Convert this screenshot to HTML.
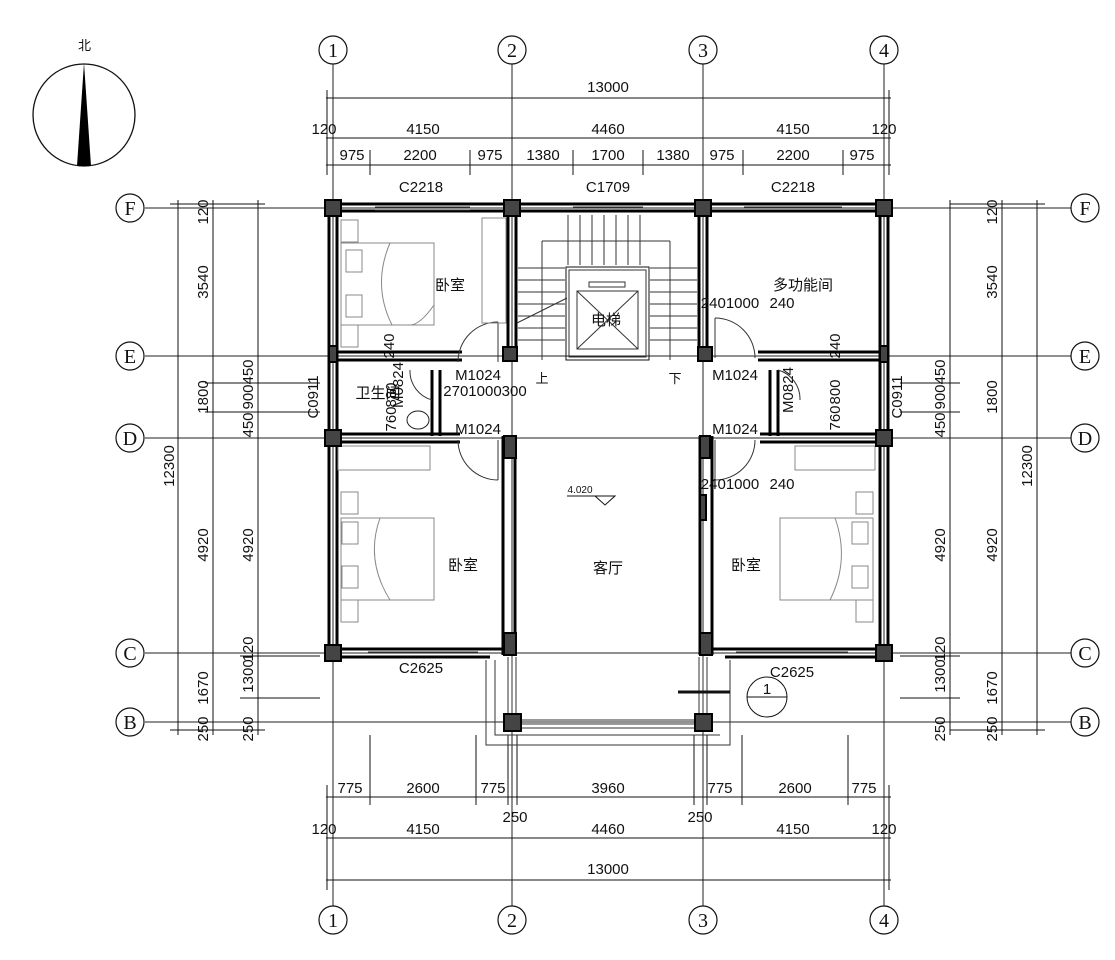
<!DOCTYPE html>
<html><head><meta charset="utf-8"><style>
body{margin:0;background:#fff;}
svg{display:block;font-family:"Liberation Sans","Noto Sans CJK SC",sans-serif;}
.t{font-size:15px;fill:#111;}
.s{font-size:13px;fill:#111;}
.c{font-family:"Liberation Serif",serif;font-size:20px;fill:#111;}
</style></head><body>
<svg width="1115" height="960" viewBox="0 0 1115 960" xmlns="http://www.w3.org/2000/svg">
<!-- compass -->
<text x="78" y="50" class="s" style="font-family:'Noto Sans CJK SC',sans-serif">北</text>
<circle cx="84" cy="115" r="51" fill="none" stroke="#111" stroke-width="1.3"/>
<polygon points="84,63 77,166 91,166" fill="#000"/>

<!-- axis grid lines -->
<g stroke="#222" stroke-width="1">
<line x1="333" y1="64" x2="333" y2="906"/>
<line x1="512" y1="64" x2="512" y2="906"/>
<line x1="703" y1="64" x2="703" y2="906"/>
<line x1="884" y1="64" x2="884" y2="906"/>
<line x1="145" y1="208" x2="1071" y2="208"/>
<line x1="145" y1="356" x2="1071" y2="356"/>
<line x1="145" y1="438" x2="1071" y2="438"/>
<line x1="145" y1="653" x2="1071" y2="653"/>
<line x1="145" y1="722" x2="1071" y2="722"/>
</g>
<!-- axis bubbles -->
<g fill="#fff" stroke="#111" stroke-width="1.2">
<circle cx="333" cy="50" r="14"/><circle cx="512" cy="50" r="14"/><circle cx="703" cy="50" r="14"/><circle cx="884" cy="50" r="14"/>
<circle cx="333" cy="920" r="14"/><circle cx="512" cy="920" r="14"/><circle cx="703" cy="920" r="14"/><circle cx="884" cy="920" r="14"/>
<circle cx="130" cy="208" r="14"/><circle cx="130" cy="356" r="14"/><circle cx="130" cy="438" r="14"/><circle cx="130" cy="653" r="14"/><circle cx="130" cy="722" r="14"/>
<circle cx="1085" cy="208" r="14"/><circle cx="1085" cy="356" r="14"/><circle cx="1085" cy="438" r="14"/><circle cx="1085" cy="653" r="14"/><circle cx="1085" cy="722" r="14"/>
</g>
<g class="c" text-anchor="middle">
<text x="333" y="57">1</text><text x="512" y="57">2</text><text x="703" y="57">3</text><text x="884" y="57">4</text>
<text x="333" y="927">1</text><text x="512" y="927">2</text><text x="703" y="927">3</text><text x="884" y="927">4</text>
<text x="130" y="215">F</text><text x="130" y="363">E</text><text x="130" y="445">D</text><text x="130" y="660">C</text><text x="130" y="729">B</text>
<text x="1085" y="215">F</text><text x="1085" y="363">E</text><text x="1085" y="445">D</text><text x="1085" y="660">C</text><text x="1085" y="729">B</text>
</g>

<!-- top dimensions -->
<g stroke="#111" stroke-width="1">
<line x1="326" y1="98" x2="891" y2="98"/>
<line x1="326" y1="138" x2="891" y2="138"/>
<line x1="326" y1="165" x2="891" y2="165"/>
<line x1="326" y1="797" x2="891" y2="797"/>
<line x1="326" y1="838" x2="891" y2="838"/>
<line x1="326" y1="880" x2="891" y2="880"/>
<line x1="327" y1="90" x2="327" y2="175"/><line x1="889" y1="90" x2="889" y2="175"/>
<line x1="327" y1="785" x2="327" y2="890"/><line x1="889" y1="785" x2="889" y2="890"/>
<line x1="370" y1="150" x2="370" y2="175"/><line x1="470" y1="150" x2="470" y2="175"/>
<line x1="573" y1="150" x2="573" y2="175"/><line x1="643" y1="150" x2="643" y2="175"/>
<line x1="743" y1="150" x2="743" y2="175"/><line x1="843" y1="150" x2="843" y2="175"/>
<line x1="370" y1="735" x2="370" y2="805"/><line x1="476" y1="735" x2="476" y2="805"/>
<line x1="508" y1="735" x2="508" y2="805"/><line x1="517" y1="735" x2="517" y2="805"/>
<line x1="694" y1="735" x2="694" y2="805"/><line x1="707" y1="735" x2="707" y2="805"/>
<line x1="742" y1="735" x2="742" y2="805"/><line x1="848" y1="735" x2="848" y2="805"/>
<!-- left dims -->
<line x1="258" y1="200" x2="258" y2="735"/>
<line x1="213" y1="200" x2="213" y2="735"/>
<line x1="178" y1="200" x2="178" y2="735"/>
<line x1="950" y1="200" x2="950" y2="735"/>
<line x1="1002" y1="200" x2="1002" y2="735"/>
<line x1="1037" y1="200" x2="1037" y2="735"/>
<line x1="170" y1="204" x2="265" y2="204"/><line x1="950" y1="204" x2="1045" y2="204"/>
<line x1="205" y1="383" x2="320" y2="383"/><line x1="205" y1="412" x2="320" y2="412"/>
<line x1="900" y1="383" x2="960" y2="383"/><line x1="900" y1="412" x2="960" y2="412"/>
<line x1="240" y1="656" x2="320" y2="656"/><line x1="240" y1="698" x2="320" y2="698"/>
<line x1="900" y1="656" x2="960" y2="656"/><line x1="900" y1="698" x2="960" y2="698"/>
<line x1="170" y1="730" x2="265" y2="730"/><line x1="950" y1="730" x2="1045" y2="730"/>
</g>
<g class="t" text-anchor="middle">
<text x="608" y="92">13000</text>
<text x="324" y="134">120</text><text x="423" y="134">4150</text><text x="608" y="134">4460</text><text x="793" y="134">4150</text><text x="884" y="134">120</text>
<text x="352" y="160">975</text><text x="420" y="160">2200</text><text x="490" y="160">975</text><text x="543" y="160">1380</text><text x="608" y="160">1700</text><text x="673" y="160">1380</text><text x="722" y="160">975</text><text x="793" y="160">2200</text><text x="862" y="160">975</text>
<text x="421" y="192">C2218</text><text x="608" y="192">C1709</text><text x="793" y="192">C2218</text>
<text x="350" y="793">775</text><text x="423" y="793">2600</text><text x="493" y="793">775</text><text x="608" y="793">3960</text><text x="720" y="793">775</text><text x="795" y="793">2600</text><text x="864" y="793">775</text>
<text x="515" y="822">250</text><text x="700" y="822">250</text>
<text x="324" y="834">120</text><text x="423" y="834">4150</text><text x="608" y="834">4460</text><text x="793" y="834">4150</text><text x="884" y="834">120</text>
<text x="608" y="874">13000</text>
<text x="421" y="673">C2625</text><text x="792" y="677">C2625</text>
</g>
<!-- vertical dim texts -->
<g class="t" text-anchor="middle">
<text transform="translate(208,282) rotate(-90)">3540</text>
<text transform="translate(208,397) rotate(-90)">1800</text>
<text transform="translate(208,545) rotate(-90)">4920</text>
<text transform="translate(208,688) rotate(-90)">1670</text>
<text transform="translate(208,212) rotate(-90)">120</text>
<text transform="translate(208,729) rotate(-90)">250</text>
<text transform="translate(174,466) rotate(-90)">12300</text>
<text transform="translate(253,372) rotate(-90)">450</text>
<text transform="translate(253,397) rotate(-90)">900</text>
<text transform="translate(253,425) rotate(-90)">450</text>
<text transform="translate(253,545) rotate(-90)">4920</text>
<text transform="translate(253,676) rotate(-90)">1300</text>
<text transform="translate(253,649) rotate(-90)">120</text>
<text transform="translate(253,729) rotate(-90)">250</text>
<text transform="translate(997,282) rotate(-90)">3540</text>
<text transform="translate(997,397) rotate(-90)">1800</text>
<text transform="translate(997,545) rotate(-90)">4920</text>
<text transform="translate(997,688) rotate(-90)">1670</text>
<text transform="translate(997,212) rotate(-90)">120</text>
<text transform="translate(997,729) rotate(-90)">250</text>
<text transform="translate(1032,466) rotate(-90)">12300</text>
<text transform="translate(945,372) rotate(-90)">450</text>
<text transform="translate(945,397) rotate(-90)">900</text>
<text transform="translate(945,425) rotate(-90)">450</text>
<text transform="translate(945,545) rotate(-90)">4920</text>
<text transform="translate(945,676) rotate(-90)">1300</text>
<text transform="translate(945,649) rotate(-90)">120</text>
<text transform="translate(945,729) rotate(-90)">250</text>
<text transform="translate(318,397) rotate(-90)">C0911</text>
<text transform="translate(902,397) rotate(-90)">C0911</text>
<text transform="translate(394,346) rotate(-90)">240</text>
<text transform="translate(840,346) rotate(-90)">240</text>
<text transform="translate(403,385) rotate(-90)">M0824</text>
<text transform="translate(793,390) rotate(-90)">M0824</text>
<text transform="translate(396,395) rotate(-90)">880</text>
<text transform="translate(396,419) rotate(-90)">760</text>
<text transform="translate(840,392) rotate(-90)">800</text>
<text transform="translate(840,418) rotate(-90)">760</text>
</g>

<!-- walls -->
<g fill="none" stroke="#000" stroke-width="3">
<rect x="329" y="204" width="559" height="7"/>
<line x1="329" y1="208" x2="329" y2="657"/><line x1="337" y1="211" x2="337" y2="650"/>
<line x1="888" y1="208" x2="888" y2="657"/><line x1="880" y1="211" x2="880" y2="650"/>
<line x1="508" y1="211" x2="508" y2="360"/><line x1="516" y1="211" x2="516" y2="360"/>
<line x1="699" y1="211" x2="699" y2="360"/><line x1="707" y1="211" x2="707" y2="360"/>
<line x1="337" y1="352" x2="462" y2="352"/><line x1="337" y1="360" x2="462" y2="360"/>
<line x1="337" y1="434" x2="460" y2="434"/><line x1="337" y1="442" x2="460" y2="442"/>
<line x1="758" y1="352" x2="880" y2="352"/><line x1="758" y1="360" x2="880" y2="360"/>
<line x1="760" y1="434" x2="880" y2="434"/><line x1="760" y1="442" x2="880" y2="442"/>
<line x1="432" y1="370" x2="432" y2="436"/><line x1="440" y1="370" x2="440" y2="436"/>
<line x1="770" y1="370" x2="770" y2="436"/><line x1="778" y1="370" x2="778" y2="436"/>
<line x1="503" y1="436" x2="503" y2="655"/><line x1="515" y1="436" x2="515" y2="655"/>
<line x1="700" y1="436" x2="700" y2="655"/><line x1="712" y1="436" x2="712" y2="655"/>
<line x1="337" y1="649" x2="515" y2="649"/><line x1="337" y1="657" x2="490" y2="657"/>
<line x1="700" y1="649" x2="880" y2="649"/><line x1="725" y1="657" x2="880" y2="657"/>
</g>
<g fill="none" stroke="#333" stroke-width="1">
<line x1="375" y1="207" x2="470" y2="207"/><line x1="375" y1="210" x2="470" y2="210"/>
<line x1="573" y1="207" x2="643" y2="207"/><line x1="744" y1="207" x2="842" y2="207"/>
<line x1="368" y1="652" x2="478" y2="652"/><line x1="736" y1="652" x2="848" y2="652"/>
<!-- balcony -->
<line x1="508" y1="657" x2="508" y2="722"/><line x1="512" y1="657" x2="512" y2="722"/><line x1="516" y1="657" x2="516" y2="722"/>
<line x1="699" y1="657" x2="699" y2="722"/><line x1="703" y1="657" x2="703" y2="722"/><line x1="707" y1="657" x2="707" y2="722"/>
<line x1="520" y1="720" x2="695" y2="720"/><line x1="520" y1="724" x2="695" y2="724"/><line x1="520" y1="728" x2="695" y2="728"/>
<polyline points="486,660 486,745 730,745 730,660"/>
<polyline points="495,660 495,735 720,735"/>
<!-- stairs -->
<line x1="542" y1="241" x2="542" y2="360"/><line x1="542" y1="241" x2="670" y2="241"/><line x1="670" y1="241" x2="670" y2="360"/>
<line x1="568" y1="215" x2="568" y2="265"/><line x1="580" y1="215" x2="580" y2="265"/><line x1="592" y1="215" x2="592" y2="265"/><line x1="604" y1="215" x2="604" y2="265"/><line x1="616" y1="215" x2="616" y2="265"/><line x1="628" y1="215" x2="628" y2="265"/><line x1="640" y1="215" x2="640" y2="265"/>
<line x1="518" y1="268" x2="565" y2="268"/><line x1="518" y1="280" x2="565" y2="280"/><line x1="518" y1="292" x2="565" y2="292"/><line x1="518" y1="304" x2="565" y2="304"/><line x1="518" y1="316" x2="565" y2="316"/><line x1="518" y1="328" x2="565" y2="328"/><line x1="518" y1="340" x2="565" y2="340"/>
<line x1="650" y1="268" x2="697" y2="268"/><line x1="650" y1="280" x2="697" y2="280"/><line x1="650" y1="292" x2="697" y2="292"/><line x1="650" y1="304" x2="697" y2="304"/><line x1="650" y1="316" x2="697" y2="316"/><line x1="650" y1="328" x2="697" y2="328"/><line x1="650" y1="340" x2="697" y2="340"/>
<line x1="517" y1="323" x2="567" y2="298"/>
<rect x="566" y="267" width="83" height="93" stroke="#111"/><rect x="569" y="270" width="77" height="87"/>
<rect x="577" y="291" width="61" height="58"/><line x1="577" y1="291" x2="638" y2="349"/><line x1="638" y1="291" x2="577" y2="349"/>
<rect x="589" y="282" width="36" height="5"/>
<!-- doors -->
<path d="M498,322 A40,40 0 0,0 458,362"/><line x1="498" y1="322" x2="498" y2="362"/>
<path d="M458,440 A40,40 0 0,0 498,480"/><line x1="498" y1="440" x2="498" y2="480"/>
<path d="M715,318 A40,40 0 0,1 755,358"/><line x1="715" y1="318" x2="715" y2="358"/>
<path d="M755,440 A40,40 0 0,1 715,480"/><line x1="715" y1="440" x2="715" y2="480"/>
<path d="M410,370 A30,30 0 0,0 432,400"/><path d="M778,370 A30,30 0 0,1 800,400"/>
</g>
<!-- furniture -->
<g fill="none" stroke="#888" stroke-width="1">
<rect x="341" y="243" width="93" height="82"/><path d="M390,243 Q372,285 392,325"/><path d="M434,305 Q420,325 410,325"/>
<rect x="346" y="250" width="16" height="22"/><rect x="346" y="295" width="16" height="22"/>
<rect x="341" y="220" width="17" height="22"/><rect x="341" y="325" width="17" height="22"/>
<rect x="482" y="218" width="24" height="105"/>
<rect x="341" y="518" width="93" height="82"/><path d="M380,518 Q365,560 390,600"/>
<rect x="342" y="522" width="16" height="22"/><rect x="342" y="566" width="16" height="22"/>
<rect x="341" y="492" width="17" height="22"/><rect x="341" y="600" width="17" height="22"/>
<rect x="780" y="518" width="93" height="82"/><path d="M835,518 Q850,560 830,600"/>
<rect x="852" y="522" width="16" height="22"/><rect x="852" y="566" width="16" height="22"/>
<rect x="856" y="492" width="17" height="22"/><rect x="856" y="600" width="17" height="22"/>
<rect x="338" y="446" width="92" height="24"/><rect x="795" y="446" width="80" height="24"/>
<ellipse cx="418" cy="420" rx="11" ry="9" stroke="#222"/>
</g>
<!-- columns -->
<g fill="#444" stroke="#000" stroke-width="2">
<rect x="325" y="200" width="16" height="16"/><rect x="504" y="200" width="16" height="16"/><rect x="695" y="200" width="16" height="16"/><rect x="876" y="200" width="16" height="16"/>
<rect x="325" y="430" width="16" height="16"/><rect x="876" y="430" width="16" height="16"/>
<rect x="325" y="645" width="16" height="16"/><rect x="876" y="645" width="16" height="16"/>
<rect x="504" y="714" width="17" height="17"/><rect x="695" y="714" width="17" height="17"/>
<rect x="329" y="346" width="8" height="16"/><rect x="880" y="346" width="8" height="16"/>
<rect x="503" y="347" width="14" height="14"/><rect x="698" y="347" width="14" height="14"/>
<rect x="504" y="436" width="12" height="22"/><rect x="700" y="436" width="10" height="22"/>
<rect x="504" y="633" width="12" height="22"/><rect x="700" y="633" width="12" height="22"/>
<rect x="700" y="495" width="6" height="25"/>
</g>
<!-- labels -->
<g class="t" style="font-family:'Noto Sans CJK SC',sans-serif" text-anchor="middle">
<text x="450" y="290">卧室</text><text x="606" y="325">电梯</text><text x="803" y="290">多功能间</text>
<text x="378" y="398">卫生间</text><text x="463" y="570">卧室</text><text x="608" y="573">客厅</text><text x="746" y="570">卧室</text>
<text x="542" y="383" class="s">上</text><text x="675" y="383" class="s">下</text>
</g>
<g class="t" text-anchor="middle">
<text x="478" y="380">M1024</text><text x="478" y="434">M1024</text>
<text x="735" y="380">M1024</text><text x="735" y="434">M1024</text>
<text x="485" y="396">2701000300</text>
<text x="730" y="308">2401000</text><text x="782" y="308">240</text>
<text x="730" y="489">2401000</text><text x="782" y="489">240</text>
<text x="580" y="493" style="font-size:10px">4.020</text>
</g>
<polyline points="567,496 615,496 605,505 595,496" fill="none" stroke="#111"/>
<!-- section marker -->
<circle cx="767" cy="697" r="20" fill="none" stroke="#111"/>
<line x1="747" y1="697" x2="787" y2="697" stroke="#111"/>
<text x="767" y="694" class="t" text-anchor="middle">1</text>
<line x1="678" y1="692" x2="730" y2="692" stroke="#111" stroke-width="3"/>
</svg>
</body></html>
